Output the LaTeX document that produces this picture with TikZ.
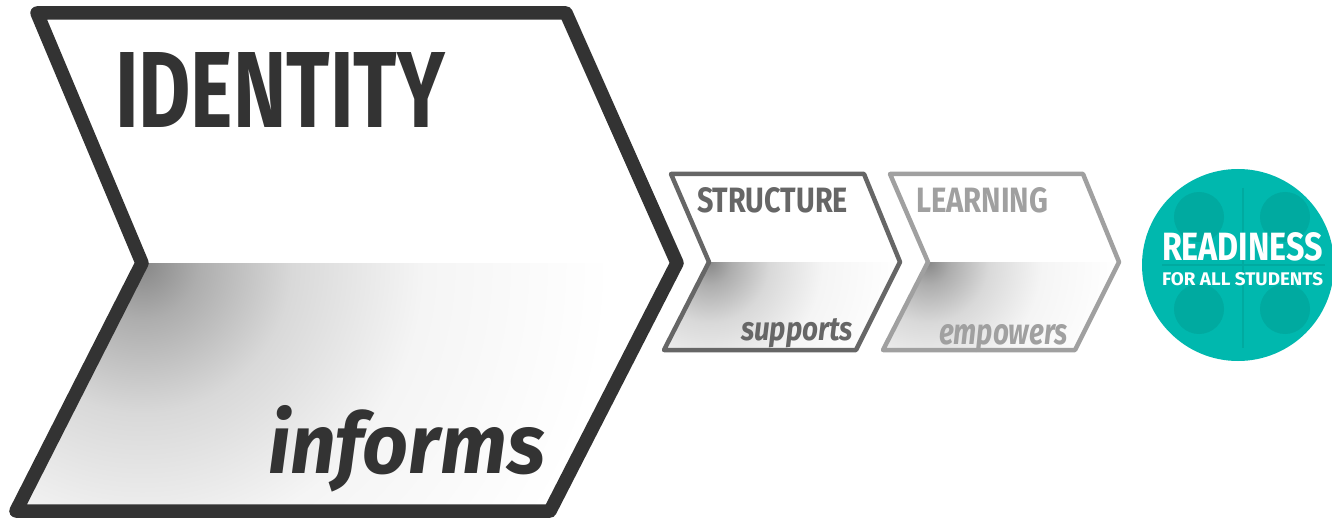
\documentclass[tikz,border=0pt]{standalone}
\usepackage{fontspec}
\setmainfont{Fira Sans}
\usepackage{graphicx}
\definecolor{dark}{HTML}{333333}
\definecolor{mid}{HTML}{666666}
\definecolor{light}{HTML}{A0A0A0}
\definecolor{tealc}{RGB}{0,184,174}
\definecolor{tealdk}{RGB}{0,170,160}
\pgfdeclareradialshading{fold}{\pgfpoint{0bp}{0bp}}{color(0bp)=(black!47); color(3bp)=(black!32); color(8bp)=(black!15); color(15bp)=(black!4); color(25bp)=(white); color(50bp)=(white)}
\tikzset{
  chev/.style={line join=round, line cap=round},
  lbl/.style={inner sep=0pt, outer sep=0pt},
}
\newcommand{\fitbox}[3]{\resizebox{#1pt}{#2pt}{#3}}
\begin{document}
\begin{tikzpicture}[x=1pt,y=-1pt]
\useasboundingbox (0,0) rectangle (1332,521);
% ---- big chevron
\begin{scope}
  \clip (142,263) -- (677,263) -- (550,511) -- (16,511) -- cycle;
  \shade[shading=fold] (142,263) circle (470);
\end{scope}
\draw[chev, dark, line width=13.5] (37,13) -- (566,13) -- (677,263) -- (550,511) -- (16,511) -- (142,263) -- cycle;
% ---- structure chevron
\begin{scope}
  \clip (709,262) -- (900,262) -- (856,350) -- (664,350) -- cycle;
  \shade[shading=fold] (709,262) circle (190);
\end{scope}
\draw[chev, mid, line width=4.5] (671,174) -- (864,174) -- (900,262) -- (856,350) -- (664,350) -- (709,262) -- cycle;
% ---- learning chevron
\begin{scope}
  \clip (928,262) -- (1119,262) -- (1075,350) -- (883,350) -- cycle;
  \shade[shading=fold] (928,262) circle (190);
\end{scope}
\draw[chev, light, line width=4.5] (890,174) -- (1083,174) -- (1119,262) -- (1075,350) -- (883,350) -- (928,262) -- cycle;
% ---- readiness circle
\fill[tealc] (1238,265) circle (96);
\fill[tealdk] (1199,217) circle (25);
\fill[tealdk] (1285,217) circle (25);
\fill[tealdk] (1199,309) circle (25);
\fill[tealdk] (1285,309) circle (25);
\draw[tealdk, line width=1.5] (1243,188) -- (1243,348);
\draw[tealdk, line width=1.5] (1162,265) -- (1325,265);
% ---- texts
\node[lbl, anchor=north west, text=dark] (identity) at (115,52) {\fitbox{330}{75}{\bfseries IDENTITY}};
\node[lbl, anchor=base west, text=dark] (informs) at (268,473) {\fitbox{277}{68}{\bfseries\itshape informs}};
\node[lbl, anchor=north west, text=mid] (structure) at (697,187) {\fitbox{151}{25}{\bfseries STRUCTURE}};
\node[lbl, anchor=base west, text=mid] (supports) at (741,340) {\fitbox{112}{22}{\bfseries\itshape supports}};
\node[lbl, anchor=north west, text=light] (learning) at (916,187) {\fitbox{132}{25}{\bfseries LEARNING}};
\node[lbl, anchor=base west, text=light] (empowers) at (939,344) {\fitbox{129}{20}{\bfseries\itshape empowers}};
\node[lbl, anchor=north west, text=white] (readiness) at (1162,232) {\fitbox{161}{28}{\bfseries READINESS}};
\node[lbl, anchor=north west, text=white] (forall) at (1162,272) {\fitbox{161}{13}{\bfseries FOR ALL STUDENTS}};
\end{tikzpicture}
\end{document}
